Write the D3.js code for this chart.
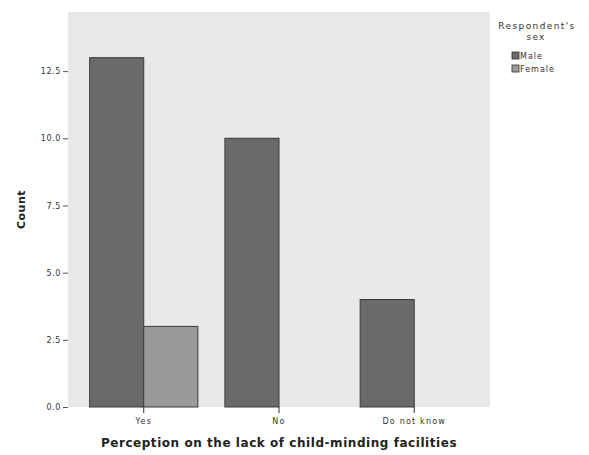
<!DOCTYPE html>
<html>
<head>
<meta charset="utf-8">
<script src="https://cdn.jsdelivr.net/npm/d3@7"></script>
<style>
  body { margin: 0; background: #fff; }
  text { font-family: "DejaVu Sans", "Liberation Sans", sans-serif; }
</style>
</head>
<body>
<svg id="chart" width="589" height="455"></svg>
<script>
// Counts of respondents by perception and sex
const categories = ["Yes", "No", "Do not know"];
const sexes = ["Male", "Female"];
const maleCounts = [13, 10, 4];
const femaleCounts = [3, 0, 0];
const yTicks = [0, 2.5, 5, 7.5, 10, 12.5];

const colors = { Male: "#6a6a6a", Female: "#9a9a9a" };

const svg = d3.select("#chart");
const plot = { left: 68, right: 490, top: 12, bottom: 407 };

svg.append("rect")
  .attr("x", plot.left).attr("y", plot.top)
  .attr("width", plot.right - plot.left)
  .attr("height", plot.bottom - plot.top)
  .attr("fill", "#e8e8e8");

const x = d3.scaleBand().domain(categories)
  .range([plot.left, plot.right])
  .paddingInner(0.2).paddingOuter(0.16);
const xs = d3.scaleBand().domain(sexes).range([0, x.bandwidth()]);
const y = d3.scaleLinear().domain([0, 14.7]).range([plot.bottom, plot.top]);

const rows = categories.map((c, i) => ({
  cat: c,
  values: [{ sex: "Male", v: maleCounts[i] }, { sex: "Female", v: femaleCounts[i] }]
}));

const g = svg.append("g").selectAll("g").data(rows).join("g")
  .attr("transform", d => `translate(${x(d.cat)},0)`);
g.selectAll("rect").data(d => d.values.filter(e => e.v > 0)).join("rect")
  .attr("x", d => xs(d.sex))
  .attr("y", d => y(d.v))
  .attr("width", xs.bandwidth())
  .attr("height", d => y(0) - y(d.v))
  .attr("fill", d => colors[d.sex])
  .attr("stroke", "#3a3a3a")
  .attr("stroke-width", 1);

// Y axis
const yAxis = d3.axisLeft(y).tickValues(yTicks)
  .tickFormat(d3.format(".1f")).tickSize(5).tickPadding(2);
const ya = svg.append("g").attr("transform", `translate(${plot.left},0)`).call(yAxis);
ya.select(".domain").remove();
ya.selectAll("line").attr("stroke", "#555");
ya.selectAll("text").attr("font-size", 8).attr("letter-spacing", 0.6)
  .attr("font-family", "DejaVu Sans").attr("fill", "#333");

// X axis
const xAxis = d3.axisBottom(x).tickSize(6).tickPadding(5);
const xa = svg.append("g").attr("transform", `translate(0,${plot.bottom})`).call(xAxis);
xa.select(".domain").remove();
xa.selectAll("line").attr("stroke", "#333");
xa.selectAll("text").attr("font-size", 8).attr("letter-spacing", 1.2)
  .attr("font-family", "DejaVu Sans").attr("fill", "#333");

// Axis titles
svg.append("text")
  .attr("x", 279).attr("y", 447)
  .attr("text-anchor", "middle").attr("font-size", 12).attr("font-weight", "bold")
  .attr("letter-spacing", 0.55).attr("fill", "#222")
  .text("Perception on the lack of child-minding facilities");
svg.append("text")
  .attr("transform", `translate(25,${(plot.top + plot.bottom) / 2}) rotate(-90)`)
  .attr("text-anchor", "middle").attr("font-size", 11).attr("font-weight", "bold")
  .attr("letter-spacing", 0.5).attr("fill", "#222")
  .text("Count");

// Legend
const lg = svg.append("g");
lg.append("text").attr("x", 537).attr("y", 29).attr("text-anchor", "middle")
  .attr("font-size", 9).attr("letter-spacing", 1.4).attr("fill", "#333").text("Respondent's");
lg.append("text").attr("x", 536).attr("y", 40).attr("text-anchor", "middle")
  .attr("font-size", 9).attr("letter-spacing", 1.2).attr("fill", "#333").text("sex");
sexes.forEach((s, i) => {
  const yy = 52 + i * 13;
  lg.append("rect").attr("x", 512).attr("y", yy).attr("width", 7).attr("height", 7)
    .attr("fill", colors[s]).attr("stroke", "#333").attr("stroke-width", 0.8);
  lg.append("text").attr("x", 520).attr("y", yy + 7)
    .attr("font-size", 8).attr("letter-spacing", 1).attr("fill", "#333").text(s);
});
</script>
</body>
</html>
